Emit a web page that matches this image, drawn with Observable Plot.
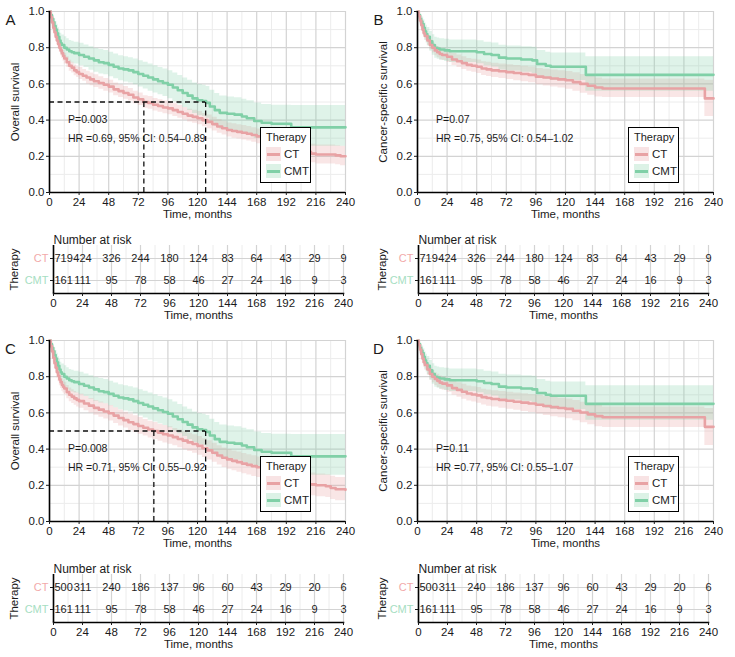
<!DOCTYPE html>
<html><head><meta charset="utf-8">
<script src="https://cdn.jsdelivr.net/npm/d3@7"></script>
<script src="https://cdn.jsdelivr.net/npm/@observablehq/plot@0.6"></script>
<style>
body{margin:0;background:#fff;font-family:"Liberation Sans",Arial,Helvetica,sans-serif;}
#root{position:relative;width:735px;height:657px;overflow:hidden;background:#fff;}
.panel{position:absolute;}
.legend{position:absolute;border:1.6px solid #000;background:#fff;box-sizing:border-box;font-size:11px;color:#222;}
.legend div{position:absolute;white-space:nowrap;}
.key{width:15px;height:14px;}
.kl{position:absolute;left:1px;right:1px;top:5.5px;height:3px;}
</style></head><body><div id="root"></div><script>
// ---------- data: [time (months), survival, lower 95% CI, upper 95% CI] ----------
const ctOS719 = [
[0,1,1,1],[1,0.97,0.96,0.98],[2,0.94,0.92,0.96],[3,0.91,0.89,0.93],[4,0.885,0.86,0.91],[5,0.86,0.835,0.885],
[6,0.84,0.815,0.865],[7,0.82,0.795,0.845],[8,0.80,0.775,0.83],[9,0.785,0.755,0.815],[10,0.77,0.74,0.80],
[11,0.755,0.725,0.785],[12,0.74,0.71,0.77],[14,0.72,0.69,0.75],[16,0.70,0.67,0.73],[18,0.69,0.66,0.72],
[20,0.675,0.645,0.705],[22,0.665,0.635,0.695],[24,0.655,0.625,0.69],[27,0.645,0.615,0.68],[30,0.635,0.60,0.67],
[33,0.625,0.59,0.66],[36,0.615,0.58,0.65],[40,0.605,0.57,0.64],[44,0.595,0.56,0.63],[48,0.585,0.55,0.62],
[52,0.57,0.535,0.605],[56,0.56,0.525,0.595],[60,0.55,0.515,0.585],[64,0.54,0.505,0.575],[68,0.525,0.49,0.56],
[72,0.515,0.48,0.55],[76,0.50,0.465,0.535],[80,0.495,0.46,0.53],[84,0.485,0.45,0.52],[88,0.478,0.443,0.513],
[92,0.47,0.435,0.505],[96,0.465,0.43,0.50],[100,0.455,0.42,0.49],[104,0.445,0.41,0.48],[108,0.435,0.40,0.47],
[112,0.425,0.39,0.46],[116,0.418,0.382,0.455],[120,0.41,0.374,0.447],[124,0.40,0.363,0.437],[128,0.39,0.352,0.428],
[132,0.378,0.34,0.416],[136,0.365,0.327,0.403],[140,0.355,0.317,0.393],[144,0.345,0.306,0.384],[148,0.34,0.30,0.38],
[152,0.335,0.295,0.375],[156,0.33,0.29,0.37],[160,0.325,0.285,0.365],[164,0.318,0.277,0.358],[168,0.31,0.269,0.351],
[172,0.305,0.263,0.347],[176,0.30,0.258,0.342],[180,0.295,0.252,0.338],[184,0.29,0.246,0.334],[188,0.285,0.24,0.33],
[192,0.28,0.234,0.326],[196,0.265,0.218,0.312],[200,0.245,0.197,0.293],[204,0.235,0.186,0.284],[208,0.225,0.175,0.275],
[212,0.215,0.164,0.266],[216,0.21,0.158,0.262],[228,0.21,0.158,0.262],[232,0.205,0.153,0.258],[236,0.20,0.148,0.255],
[240,0.20,0.148,0.255]];
const cmtOS = [
[0,1,1,1],[1,0.98,0.96,1.0],[2,0.96,0.93,0.99],[3,0.94,0.905,0.975],[4,0.92,0.88,0.96],[5,0.90,0.855,0.945],
[6,0.88,0.83,0.93],[7,0.86,0.81,0.91],[8,0.84,0.785,0.895],[9,0.825,0.77,0.88],[10,0.815,0.76,0.87],
[12,0.80,0.745,0.86],[14,0.79,0.73,0.85],[16,0.78,0.72,0.84],[18,0.775,0.715,0.835],[20,0.77,0.71,0.83],
[24,0.76,0.70,0.825],[28,0.75,0.69,0.815],[32,0.74,0.675,0.805],[36,0.73,0.665,0.795],[40,0.72,0.655,0.79],
[44,0.715,0.65,0.785],[48,0.705,0.64,0.775],[52,0.695,0.628,0.765],[56,0.685,0.617,0.755],[60,0.68,0.61,0.75],
[64,0.675,0.605,0.745],[68,0.665,0.595,0.737],[72,0.655,0.583,0.728],[76,0.645,0.572,0.72],[80,0.635,0.56,0.71],
[84,0.625,0.55,0.70],[88,0.615,0.54,0.69],[92,0.605,0.53,0.682],[96,0.595,0.518,0.673],[100,0.58,0.50,0.66],
[104,0.565,0.485,0.647],[108,0.55,0.47,0.633],[112,0.535,0.453,0.62],[116,0.52,0.437,0.605],[120,0.51,0.426,0.597],
[124,0.505,0.42,0.593],[127,0.495,0.41,0.585],[130,0.475,0.388,0.565],[134,0.455,0.366,0.547],[138,0.44,0.35,0.533],
[144,0.435,0.344,0.528],[150,0.43,0.338,0.524],[156,0.42,0.326,0.515],[160,0.41,0.315,0.507],[166,0.395,0.298,0.494],
[172,0.385,0.287,0.486],[180,0.38,0.28,0.482],[196,0.36,0.255,0.48],[240,0.36,0.255,0.48]];
const ctOS500 = [
[0,1,1,1],[1,0.97,0.955,0.985],[2,0.94,0.92,0.96],[3,0.905,0.88,0.93],[4,0.875,0.845,0.905],[5,0.85,0.82,0.88],
[6,0.825,0.793,0.857],[7,0.805,0.772,0.838],[8,0.785,0.75,0.82],[9,0.77,0.735,0.805],[10,0.755,0.72,0.79],
[11,0.745,0.71,0.78],[12,0.735,0.70,0.77],[14,0.715,0.678,0.752],[16,0.70,0.662,0.738],[18,0.69,0.652,0.728],
[20,0.68,0.642,0.718],[22,0.672,0.633,0.711],[24,0.665,0.626,0.704],[28,0.652,0.612,0.692],[32,0.64,0.60,0.68],
[36,0.628,0.587,0.669],[40,0.618,0.576,0.66],[44,0.608,0.566,0.65],[48,0.598,0.555,0.641],[52,0.585,0.542,0.628],
[56,0.572,0.528,0.616],[60,0.56,0.516,0.604],[64,0.548,0.503,0.593],[68,0.538,0.492,0.584],[72,0.528,0.482,0.574],
[76,0.518,0.472,0.564],[80,0.508,0.462,0.554],[84,0.50,0.453,0.547],[88,0.49,0.443,0.537],[92,0.482,0.434,0.53],
[96,0.475,0.427,0.523],[100,0.466,0.418,0.514],[104,0.456,0.407,0.505],[108,0.447,0.397,0.497],[112,0.437,0.387,0.487],
[116,0.428,0.377,0.479],[120,0.418,0.366,0.47],[124,0.405,0.353,0.457],[128,0.393,0.34,0.446],[132,0.38,0.327,0.433],
[136,0.365,0.312,0.418],[140,0.352,0.298,0.406],[144,0.343,0.288,0.398],[148,0.335,0.28,0.39],[152,0.328,0.272,0.384],
[156,0.32,0.264,0.376],[160,0.313,0.257,0.369],[164,0.306,0.249,0.363],[168,0.30,0.243,0.357],[172,0.293,0.235,0.351],
[176,0.287,0.229,0.345],[180,0.281,0.222,0.34],[184,0.275,0.216,0.334],[188,0.268,0.208,0.328],[192,0.262,0.201,0.323],
[196,0.245,0.183,0.307],[200,0.225,0.163,0.287],[204,0.212,0.15,0.274],[208,0.205,0.142,0.268],[216,0.20,0.137,0.263],
[224,0.195,0.132,0.258],[228,0.185,0.122,0.25],[232,0.178,0.114,0.243],[240,0.175,0.11,0.24]];
const ctCSS719 = [
[0,1,1,1],[1,0.975,0.963,0.987],[2,0.95,0.934,0.966],[3,0.925,0.905,0.945],[4,0.90,0.878,0.922],[5,0.88,0.856,0.904],
[6,0.865,0.84,0.89],[8,0.84,0.813,0.867],[10,0.815,0.787,0.843],[12,0.80,0.771,0.829],[14,0.785,0.755,0.815],
[16,0.775,0.745,0.805],[18,0.765,0.734,0.796],[20,0.76,0.729,0.791],[24,0.75,0.718,0.782],[28,0.735,0.702,0.768],
[32,0.725,0.691,0.759],[36,0.715,0.68,0.75],[40,0.705,0.67,0.74],[44,0.70,0.664,0.736],[48,0.695,0.658,0.732],
[52,0.685,0.647,0.723],[56,0.68,0.641,0.719],[60,0.675,0.636,0.714],[66,0.67,0.63,0.71],[72,0.665,0.624,0.706],
[78,0.66,0.618,0.702],[84,0.655,0.612,0.698],[90,0.65,0.606,0.694],[96,0.64,0.595,0.685],[102,0.635,0.589,0.681],
[108,0.63,0.583,0.677],[114,0.625,0.577,0.673],[120,0.62,0.571,0.669],[126,0.61,0.559,0.661],[132,0.60,0.548,0.652],
[138,0.59,0.537,0.643],[144,0.58,0.527,0.633],[150,0.575,0.525,0.627],[233,0.52,0.42,0.62],[240,0.52,0.42,0.62]];
const cmtCSS = [
[0,1,1,1],[1,0.98,0.96,1.0],[2,0.96,0.93,0.99],[3,0.945,0.91,0.98],[4,0.93,0.89,0.97],[5,0.91,0.865,0.955],
[6,0.89,0.843,0.937],[7,0.875,0.826,0.924],[8,0.86,0.809,0.911],[10,0.835,0.781,0.889],[12,0.815,0.758,0.872],
[14,0.80,0.742,0.858],[16,0.795,0.736,0.854],[18,0.79,0.73,0.85],[22,0.785,0.724,0.846],[26,0.78,0.718,0.842],
[48,0.775,0.712,0.838],[54,0.765,0.70,0.83],[60,0.76,0.694,0.826],[66,0.745,0.677,0.813],[72,0.74,0.671,0.809],
[84,0.735,0.665,0.805],[93,0.73,0.658,0.802],[97,0.71,0.636,0.784],[104,0.70,0.625,0.775],[108,0.695,0.619,0.771],
[136.5,0.65,0.56,0.75],[240,0.65,0.56,0.75]];
const ctCSS500 = [
[0,1,1,1],[1,0.975,0.96,0.99],[2,0.95,0.931,0.969],[3,0.925,0.902,0.948],[4,0.90,0.874,0.926],[5,0.88,0.852,0.908],
[6,0.865,0.836,0.894],[8,0.84,0.809,0.871],[10,0.815,0.782,0.848],[12,0.80,0.766,0.834],[14,0.787,0.752,0.822],
[16,0.777,0.741,0.813],[18,0.767,0.73,0.804],[20,0.762,0.725,0.799],[24,0.752,0.714,0.79],[28,0.737,0.698,0.776],
[32,0.727,0.687,0.767],[36,0.717,0.676,0.758],[40,0.707,0.666,0.748],[44,0.702,0.66,0.744],[48,0.697,0.654,0.74],
[52,0.687,0.643,0.731],[56,0.682,0.637,0.727],[60,0.677,0.632,0.722],[66,0.672,0.626,0.718],[72,0.667,0.62,0.714],
[78,0.662,0.614,0.71],[84,0.657,0.608,0.706],[90,0.652,0.602,0.702],[96,0.645,0.594,0.696],[102,0.638,0.586,0.69],
[108,0.632,0.579,0.685],[114,0.627,0.573,0.681],[120,0.622,0.567,0.677],[126,0.612,0.556,0.668],[132,0.602,0.545,0.659],
[138,0.592,0.534,0.65],[144,0.582,0.523,0.641],[150,0.576,0.52,0.632],[233,0.523,0.42,0.625],[240,0.523,0.42,0.625]];

const riskTimes = [0, 24, 48, 72, 96, 120, 144, 168, 192, 216, 240];
const riskCT719 = [719, 424, 326, 244, 180, 124, 83, 64, 43, 29, 9];
const riskCT500 = [500, 311, 240, 186, 137, 96, 60, 43, 29, 20, 6];
const riskCMT161 = [161, 111, 95, 78, 58, 46, 27, 24, 16, 9, 3];
const groups = ["CT", "CMT"];
const timeTicks = [0, 24, 48, 72, 96, 120, 144, 168, 192, 216, 240];
const survTicks = [0, 0.2, 0.4, 0.6, 0.8, 1.0];
const mediansA = [76.5, 126.6];
const mediansC = [84.6, 126.6];

// ---------- styles ----------
const CT_COL = "#E8A2A4", CMT_COL = "#80D0A7";
const CT_LBL = "#F2AAAA", CMT_LBL = "#A6DEC2";
const FONT = '"Liberation Sans", Arial, Helvetica, sans-serif';
const minorTime = d3.range(12, 241, 24);
const minorSurv = [0.1, 0.3, 0.5, 0.7, 0.9];
const majorGrid = {stroke: "#d3d3d3", strokeOpacity: 1, strokeWidth: 1.2};
const minorGrid = {stroke: "#ececec", strokeOpacity: 1, strokeWidth: 1};
const root = document.getElementById("root");

function toObj(a) { return a.map(([t, s, lo, hi]) => ({t, s, lo, hi})); }

function km({ct, cmt, ylabel, letter, p, hr, medians}) {
  const A = toObj(ct), B = toObj(cmt);
  const marks = [
    Plot.gridX(minorTime, minorGrid),
    Plot.gridY(minorSurv, minorGrid),
    Plot.gridX(timeTicks, majorGrid),
    Plot.gridY(survTicks, majorGrid),
    Plot.areaY(A, {x: "t", y1: "lo", y2: "hi", curve: "step-after", fill: CT_COL, fillOpacity: 0.27}),
    Plot.areaY(B, {x: "t", y1: "lo", y2: "hi", curve: "step-after", fill: CMT_COL, fillOpacity: 0.25}),
    Plot.lineY(B, {x: "t", y: "s", curve: "step-after", stroke: CMT_COL, strokeWidth: 2.6}),
    Plot.lineY(A, {x: "t", y: "s", curve: "step-after", stroke: CT_COL, strokeWidth: 2.6})
  ];
  if (medians) {
    marks.push(Plot.ruleY([0.5], {y: d => d, x1: 0, x2: d3.max(medians), stroke: "#111", strokeWidth: 1.3, strokeDasharray: "5,3.5"}));
    marks.push(Plot.ruleX(medians, {x: d => d, y1: 0, y2: 0.5, stroke: "#111", strokeWidth: 1.3, strokeDasharray: "5,3.5"}));
  }
  marks.push(
    Plot.ruleX([0], {stroke: "#000", strokeWidth: 1.6}),
    Plot.ruleY([0], {stroke: "#000", strokeWidth: 1.6}),
    Plot.axisX({ticks: timeTicks, tickSize: 3, tickPadding: 2, label: null, fontSize: 11.5}),
    Plot.axisY({ticks: survTicks, tickSize: 3, tickPadding: 2, tickFormat: d3.format(".1f"), label: null, fontSize: 11.5}),
    Plot.text([ylabel], {text: d => d, frameAnchor: "left", textAnchor: "middle", dx: -34, rotate: -90, fontSize: 11.5}),
    Plot.text(["Time, months"], {text: d => d, frameAnchor: "bottom", dy: 25, fontSize: 11.5}),
    Plot.text([letter], {text: d => d, frameAnchor: "top-left", textAnchor: "middle", dx: -39, dy: 3, fontSize: 15}),
    Plot.text([p], {text: d => d, x: 15, y: 0.40, textAnchor: "start", fontSize: 10.5}),
    Plot.text([hr], {text: d => d, x: 15, y: 0.30, textAnchor: "start", fontSize: 10.5})
  );
  return Plot.plot({
    width: 367, height: 225, marginLeft: 49, marginRight: 22, marginTop: 11, marginBottom: 33,
    x: {domain: [0, 240]}, y: {domain: [0, 1]},
    style: {fontFamily: FONT, fontSize: "11.5px", color: "#1a1a1a", background: "transparent", overflow: "visible"},
    marks
  });
}

function riskTable({ct, cmt, ml}) {
  const rows = [];
  riskTimes.forEach((t, i) => {
    rows.push({t, g: "CT", n: ct[i]});
    rows.push({t, g: "CMT", n: cmt[i]});
  });
  const first = rows.filter(d => d.t === 0), rest = rows.filter(d => d.t !== 0);
  return Plot.plot({
    width: 367, height: 100, marginTop: 20, marginBottom: 32, marginLeft: ml, marginRight: 367 - ml - 290,
    x: {domain: [0, 240]}, y: {type: "point", domain: groups, padding: 0.55},
    style: {fontFamily: FONT, fontSize: "11.5px", color: "#1a1a1a", background: "transparent", overflow: "visible"},
    marks: [
      Plot.gridX(minorTime, minorGrid),
      Plot.gridX(timeTicks, majorGrid),
      Plot.gridY(groups, majorGrid),
      Plot.text(first, {x: "t", y: "g", text: "n", textAnchor: "start", dx: 1, fontSize: 11, fill: "#222"}),
      Plot.text(rest, {x: "t", y: "g", text: "n", fontSize: 11, fill: "#222"}),
      Plot.ruleX([0], {stroke: "#000", strokeWidth: 1.6}),
      Plot.frame({anchor: "bottom", stroke: "#000", strokeWidth: 1.6}),
      Plot.axisX({ticks: timeTicks, tickSize: 3, tickPadding: 2, label: null, fontSize: 11.5}),
      Plot.axisY({tickSize: 3, tickFormat: () => "", label: null}),
      Plot.text(["CT"], {y: d => d, text: d => d, frameAnchor: "left", dx: -5, textAnchor: "end", fill: CT_LBL, fontSize: 11}),
      Plot.text(["CMT"], {y: d => d, text: d => d, frameAnchor: "left", dx: -5, textAnchor: "end", fill: CMT_LBL, fontSize: 11}),
      Plot.text(["Therapy"], {text: d => d, frameAnchor: "left", textAnchor: "middle", dx: -(ml - 14), rotate: -90, fontSize: 11.5}),
      Plot.text(["Number at risk"], {text: d => d, frameAnchor: "top-left", dy: -10, textAnchor: "start", fontSize: 12}),
      Plot.text(["Time, months"], {text: d => d, frameAnchor: "bottom", dy: 25, fontSize: 11.5})
    ]
  });
}

function place(el, left, top) {
  const d = document.createElement("div");
  d.className = "panel";
  d.style.left = left + "px"; d.style.top = top + "px";
  d.appendChild(el);
  root.appendChild(d);
}

function legend(left, top) {
  const d = document.createElement("div");
  d.className = "legend";
  Object.assign(d.style, {left: left + "px", top: top + "px", width: "51px", height: "56px"});
  const items = [["CT", CT_COL, "rgba(232,162,164,0.3)"], ["CMT", CMT_COL, "rgba(128,208,167,0.28)"]];
  let html = '<div style="left:5px;top:3px;font-size:11px">Therapy</div>';
  items.forEach(([name, c, bg], i) => {
    const y = 19 + i * 17;
    html += `<div class="key" style="left:5px;top:${y}px;background:${bg}"><div class="kl" style="background:${c}"></div></div>`;
    html += `<div style="left:23px;top:${y}px;font-size:11.5px;line-height:14px">${name}</div>`;
  });
  d.innerHTML = html;
  root.appendChild(d);
}

const panels = [
  {left: 0, top: 0, ct: ctOS719, cmt: cmtOS, ylabel: "Overall survival", letter: "A", p: "P=0.003", hr: "HR =0.69, 95% CI: 0.54\u20130.89", medians: mediansA, risk: riskCT719, ml: 53},
  {left: 368, top: 0, ct: ctCSS719, cmt: cmtCSS, ylabel: "Cancer-specific survival", letter: "B", p: "P=0.07", hr: "HR =0.75, 95% CI: 0.54\u20131.02", medians: null, risk: riskCT719, ml: 50},
  {left: 0, top: 329, ct: ctOS500, cmt: cmtOS, ylabel: "Overall survival", letter: "C", p: "P=0.008", hr: "HR =0.71, 95% CI: 0.55\u20130.92", medians: mediansC, risk: riskCT500, ml: 53},
  {left: 368, top: 329, ct: ctCSS500, cmt: cmtCSS, ylabel: "Cancer-specific survival", letter: "D", p: "P=0.11", hr: "HR =0.77, 95% CI: 0.55\u20131.07", medians: null, risk: riskCT500, ml: 50}
];

panels.forEach(pn => {
  place(km(pn), pn.left, pn.top);
  place(riskTable({ct: pn.risk, cmt: riskCMT161, ml: pn.ml}), pn.left, pn.top + 225);
  legend(pn.left + 260, pn.top + 127);
});
</script></body></html>
